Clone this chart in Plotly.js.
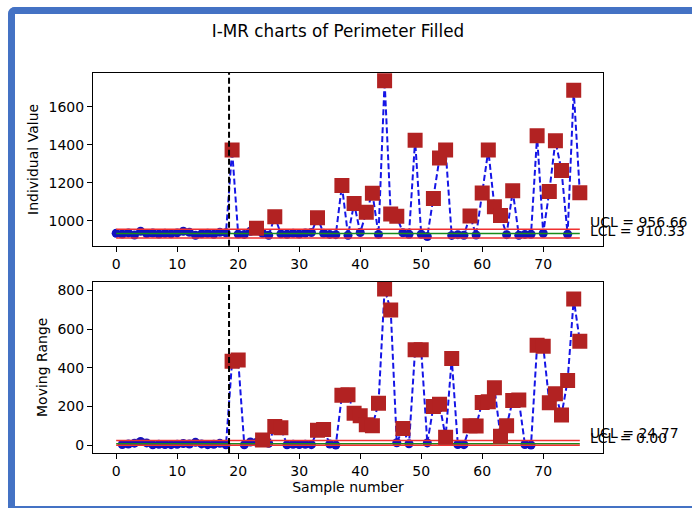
<!DOCTYPE html>
<html><head><meta charset="utf-8">
<script src="https://cdn.plot.ly/plotly-3.0.1.min.js"></script>
<style>
html,body{margin:0;padding:0;background:#fff;width:692px;height:509px;overflow:hidden}
#frame{position:absolute;left:8px;top:7px;width:720px;height:501px;box-sizing:border-box;border-left:7px solid #4472c4;border-top:7px solid #4472c4;border-bottom:2px solid #4472c4;border-top-left-radius:7px;background:#fff}
#chart{position:absolute;left:0;top:0;width:692px;height:509px}
</style></head><body>
<div id="frame"></div><div id="chart"></div>
<script>
// Individual values, samples 0..76
const individualValues = [935, 931, 937, 926, 946, 934, 936, 931, 935, 932, 937, 946, 940, 925, 932, 935, 930, 940, 938,
  1372, 931, 929, 946, 962, 935, 925, 1022, 932, 930, 935, 931, 936, 939, 1017, 935, 929, 928, 1186, 925, 1091,
  939, 1045, 1146, 929, 1736, 1037, 1024, 938, 930, 1424, 930, 918, 1118, 1330, 1372, 924, 928, 925, 1026, 926,
  1147, 1372, 1075, 1029, 928, 1159, 925, 929, 930, 1447, 935, 1155, 1421, 1265, 930, 1686, 1148];
// Moving ranges, samples 1..76
const movingRanges = [4, 6, 11, 20, 12, 2, 5, 4, 3, 5, 9, 6, 15, 7, 3, 5, 10, 2,
  434, 441, 2, 17, 16, 27, 10, 97, 90, 2, 5, 4, 5, 3, 78, 82, 6, 1, 258, 261, 166,
  152, 106, 101, 217, 807, 699, 13, 86, 8, 494, 494, 12, 200, 212, 42, 448, 4, 3, 101, 100,
  221, 225, 297, 46, 101, 231, 234, 4, 1, 517, 512, 220, 266, 156, 335, 756, 538];
const iLimits = {UCL: 956.66, CL: 933.5, LCL: 910.33};
const mrLimits = {UCL: 24.77, CL: 7.58, LCL: 0.0};
const iLabels = ['UCL = 956.66', 'LCL = 910.33'];
const mrLabels = ['UCL = 24.77', 'LCL = 0.00'];
const phaseBoundary = 18.5;
const xTicks = [0, 10, 20, 30, 40, 50, 60, 70];

const iX = individualValues.map((v, k) => k);
const mrX = movingRanges.map((v, k) => k + 1);
const lastX = individualValues.length - 1;

const FONT = 'DejaVu Sans, Liberation Sans, sans-serif';
const dataLine = {color: '#1515e6', width: 2, dash: '6px,3px'};
const traces = [];
function chart(xs, ys, lim, xa, ya) {
  traces.push({x: xs, y: ys, xaxis: xa, yaxis: ya, mode: 'lines+markers', line: dataLine,
    marker: {symbol: 'circle', size: 9, color: '#1010c0'}, hoverinfo: 'skip'});
  [[lim.UCL, '#f03030'], [lim.CL, '#1a8c1a'], [lim.LCL, '#f03030']].forEach(([v, c]) => {
    traces.push({x: [0, lastX], y: [v, v], xaxis: xa, yaxis: ya, mode: 'lines', line: {color: c, width: 1.5}, hoverinfo: 'skip'});
  });
  const ox = [], oy = [];
  ys.forEach((v, k) => { if (v > lim.UCL || v < lim.LCL) { ox.push(xs[k]); oy.push(v); } });
  traces.push({x: ox, y: oy, xaxis: xa, yaxis: ya, mode: 'markers',
    marker: {symbol: 'square', size: 15, color: '#b22222', line: {color: '#b22222', width: 0}}, hoverinfo: 'skip'});
}
chart(iX, individualValues, iLimits, 'x', 'y');
chart(mrX, movingRanges, mrLimits, 'x2', 'y2');

const axBase = {showline: true, mirror: true, linecolor: 'black', linewidth: 1, ticks: 'outside', ticklen: 5,
  tickwidth: 1, tickcolor: 'black', showgrid: false, zeroline: false, tickfont: {family: FONT, size: 14, color: '#000'}};
const xr = [-3.8, 79.8];
const annots = [];
function addLabels(labels, lim, xref, yref) {
  [[labels[0], lim.UCL], [labels[1], lim.LCL]].forEach(([t, v]) => {
    annots.push({text: t, x: lastX + 1.4, y: v, xref: xref, yref: yref, xanchor: 'left', yanchor: 'bottom', yshift: -3,
      showarrow: false, font: {family: FONT, size: 14, color: '#000'}});
  });
}
addLabels(iLabels, iLimits, 'x', 'y');
addLabels(mrLabels, mrLimits, 'x2', 'y2');

const layout = {
  width: 692, height: 509,
  margin: {l: 93, r: 89, t: 73, b: 56},
  paper_bgcolor: 'rgba(0,0,0,0)', plot_bgcolor: '#fff',
  showlegend: false,
  title: {text: 'I-MR charts of Perimeter Filled', font: {family: FONT, size: 16.8, color: '#000'},
    xref: 'container', x: 0.4884, xanchor: 'center', yref: 'container', y: 0.939, yanchor: 'middle'},
  xaxis: Object.assign({}, axBase, {range: xr, tickvals: xTicks, anchor: 'y'}),
  yaxis: Object.assign({}, axBase, {domain: [0.5451, 1], range: [869, 1777], dtick: 200, tick0: 0, anchor: 'x',
    title: {text: 'Individual Value', font: {family: FONT, size: 14, color: '#000'}, standoff: 6}}),
  xaxis2: Object.assign({}, axBase, {range: xr, tickvals: xTicks, anchor: 'y2',
    title: {text: 'Sample number', font: {family: FONT, size: 14, color: '#000'}, standoff: 4}}),
  yaxis2: Object.assign({}, axBase, {domain: [0, 0.4512], range: [-40, 846], dtick: 200, tick0: 0, anchor: 'x2',
    title: {text: 'Moving Range', font: {family: FONT, size: 14, color: '#000'}, standoff: 6}}),
  shapes: [
    {type: 'line', xref: 'x', yref: 'y domain', x0: phaseBoundary, x1: phaseBoundary, y0: 0, y1: 1, layer: 'above', line: {color: 'black', width: 2, dash: '6px,3px'}},
    {type: 'line', xref: 'x2', yref: 'y2 domain', x0: phaseBoundary, x1: phaseBoundary, y0: 0, y1: 1, layer: 'above', line: {color: 'black', width: 2, dash: '6px,3px'}}
  ],
  annotations: annots
};
Plotly.newPlot('chart', traces, layout, {displayModeBar: false, staticPlot: true});
</script>
</body></html>
